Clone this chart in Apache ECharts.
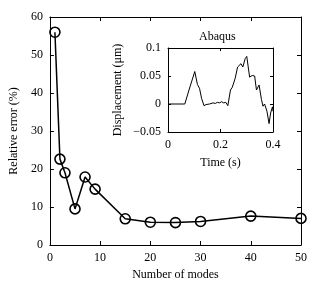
<!DOCTYPE html>
<html><head><meta charset="utf-8">
<script src="https://cdn.jsdelivr.net/npm/echarts@6/dist/echarts.min.js"></script>
<style>html,body{margin:0;padding:0;background:#fff}#c{width:316px;height:286px}</style>
</head><body><div id="c"></div>
<script>
const modes = [1, 2, 3, 5, 7, 9, 15, 20, 25, 30, 40, 50];
const relErrors = [56, 22.6, 19, 9.5, 17.9, 14.7, 6.9, 6.0, 5.9, 6.2, 7.6, 7.0];
const timeS = [0, 0.064, 0.08, 0.102, 0.112, 0.12, 0.128, 0.137, 0.145, 0.150, 0.158, 0.165, 0.172, 0.180, 0.188, 0.196, 0.204, 0.212, 0.220, 0.228, 0.238, 0.245, 0.256, 0.265, 0.271, 0.278, 0.285, 0.294, 0.300, 0.311, 0.321, 0.330, 0.337, 0.347, 0.356, 0.362, 0.368, 0.377, 0.385, 0.391, 0.398, 0.400];
const dispUm = [0, 0, 0.025, 0.058, 0.035, 0.028, 0.01, -0.003, -0.001, -0.003, 0.000, -0.001, 0.002, 0.001, 0.003, 0.002, 0.004, 0.002, 0.003, -0.003, 0.025, 0.030, 0.046, 0.066, 0.063, 0.072, 0.066, 0.081, 0.085, 0.048, 0.051, 0.050, 0.025, 0.034, 0.008, -0.004, 0.000, -0.013, -0.035, -0.016, -0.005, -0.013];
const mainXRange = [0, 50, 10];
const mainYRange = [0, 60, 10];
const insetXRange = [0, 0.4, 0.2];
const insetYRange = [-0.05, 0.1, 0.05];
const insetTitle = 'Abaqus';

const FONT = 'Liberation Serif';
const txt = {color: '#000', fontFamily: FONT, fontSize: 12};
const line = {lineStyle: {color: '#000', width: 1}};
function fmtNum(v) {
  let s = String(Math.round(v * 1000) / 1000);
  return s.replace('-', '\u2212');
}
function ax(type, grid, pos, r, show, extra) {
  return Object.assign({
    type: 'value', gridIndex: grid, position: pos, min: r[0], max: r[1], interval: r[2],
    axisLine: Object.assign({show: true, onZero: false}, line),
    axisTick: {show: true, inside: true, length: grid === 0 ? 4 : 3, lineStyle: {color: '#000'}},
    axisLabel: Object.assign({show: show, margin: 7, formatter: fmtNum}, txt),
    splitLine: {show: false}
  }, extra || {});
}
const chart = echarts.init(document.getElementById('c'), null, {renderer: 'canvas'});
chart.setOption({
  animation: false,
  backgroundColor: '#fff',
  title: {text: insetTitle, left: 194, top: 26, textStyle: Object.assign({fontWeight: 'normal'}, txt)},
  grid: [
    {left: 43, right: 15, top: 17, bottom: 40},
    {left: 168, right: 43, top: 48, bottom: 154, show: true, backgroundColor: '#fff', borderWidth: 0}
  ],
  xAxis: [
    ax('x', 0, 'bottom', mainXRange, true, {name: 'Number of modes', nameLocation: 'middle', nameGap: 24, nameTextStyle: txt}),
    ax('x', 0, 'top', mainXRange, false),
    ax('x', 1, 'bottom', insetXRange, true, {name: 'Time (s)', nameLocation: 'middle', nameGap: 25, nameTextStyle: txt}),
    ax('x', 1, 'top', insetXRange, false)
  ],
  yAxis: [
    ax('y', 0, 'left', mainYRange, true, {name: 'Relative error (%)', nameLocation: 'middle', nameGap: 28, nameTextStyle: txt}),
    ax('y', 0, 'right', mainYRange, false),
    ax('y', 1, 'left', insetYRange, true, {name: 'Displacement (\u03bcm)', nameLocation: 'middle', nameGap: 44, nameTextStyle: txt}),
    ax('y', 1, 'right', insetYRange, false)
  ],
  series: [
    {
      type: 'line', xAxisIndex: 0, yAxisIndex: 0,
      data: modes.map((m, i) => [m, relErrors[i]]),
      symbol: 'circle', symbolSize: 10, showAllSymbol: true,
      lineStyle: {color: '#000', width: 1.5},
      itemStyle: {color: 'rgba(255,255,255,0)', borderColor: '#000', borderWidth: 1.6},
      z: 5
    },
    {
      type: 'line', xAxisIndex: 2, yAxisIndex: 2,
      data: timeS.map((t, i) => [t, dispUm[i]]),
      symbol: 'none', lineStyle: {color: '#000', width: 1},
      z: 5
    }
  ]
});
</script>
</body></html>
